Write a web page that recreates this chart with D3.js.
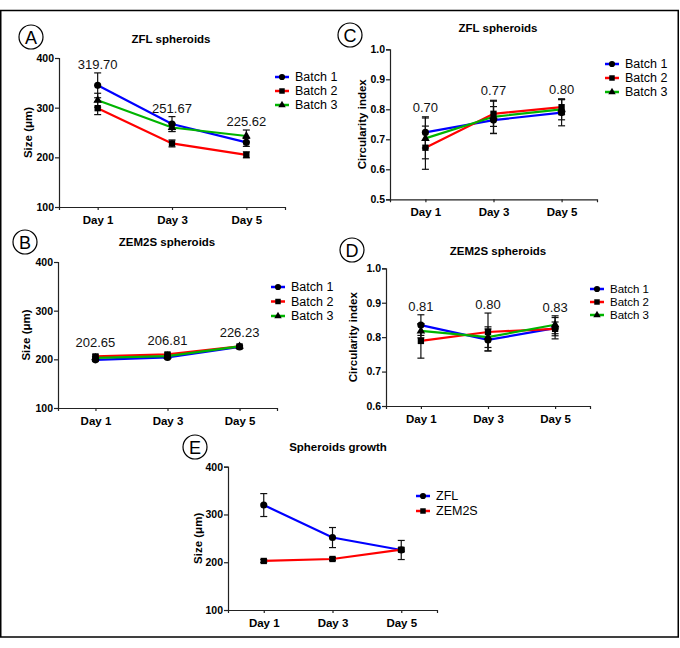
<!DOCTYPE html>
<html><head><meta charset="utf-8">
<script src="https://cdn.jsdelivr.net/npm/d3@7"></script>
<style>body{margin:0;background:#fff}svg{font-family:"Liberation Sans",Arial,sans-serif}</style>
</head><body>
<svg id="c" width="680" height="648"></svg>
<script>
const days = ["Day 1", "Day 3", "Day 5"];
const batchNames = ["Batch 1", "Batch 2", "Batch 3"];
const growthNames = ["ZFL", "ZEM2S"];

// A: ZFL spheroid size
const zflSizeB1 = [345, 267, 230], zflSizeB1Err = [25, 15, 8];
const zflSizeB2 = [299, 228, 205], zflSizeB2Err = [13, 7, 6];
const zflSizeB3 = [315, 260, 243], zflSizeB3Err = [14, 8, 12];
const zflSizeMeans = ["319.70", "251.67", "225.62"];
// B: ZEM2S spheroid size
const zemSizeB1 = [199, 204, 225.5], zemSizeB1Err = [3, 3, 2];
const zemSizeB2 = [206, 210, 226.5], zemSizeB2Err = [3, 3, 2];
const zemSizeB3 = [203, 206.5, 226.7], zemSizeB3Err = [3, 3, 2];
const zemSizeMeans = ["202.65", "206.81", "226.23"];
// C: ZFL circularity
const zflCircB1 = [0.723, 0.764, 0.789], zflCircB1Err = [0.052, 0.045, 0.044];
const zflCircB2 = [0.672, 0.785, 0.807], zflCircB2Err = [0.072, 0.042, 0.025];
const zflCircB3 = [0.703, 0.775, 0.800], zflCircB3Err = [0.068, 0.055, 0.035];
const zflCircMeans = ["0.70", "0.77", "0.80"];
// D: ZEM2S circularity
const zemCircB1 = [0.835, 0.792, 0.826], zemCircB1Err = [0.03, 0.032, 0.031];
const zemCircB2 = [0.789, 0.815, 0.824], zemCircB2Err = [0.05, 0.055, 0.02];
const zemCircB3 = [0.818, 0.800, 0.836], zemCircB3Err = [0.02, 0.03, 0.026];
const zemCircMeans = ["0.81", "0.80", "0.83"];
// E: growth
const growthZFL = [319.70, 251.67, 225.62], growthZFLErr = [24, 21, 20];
const growthZEM = [202.65, 206.81, 226.23], growthZEMErr = [3, 3, 4];

const sizeTicks = [100, 200, 300, 400];
const circTicksC = [0.5, 0.6, 0.7, 0.8, 0.9, 1.0];
const circTicksD = [0.6, 0.7, 0.8, 0.9, 1.0];

const colors = ["#0000ff", "#ff0000", "#00b400"];
const shapes = [d3.symbolCircle, d3.symbolSquare, d3.symbolTriangle];

const svg = d3.select("#c");
svg.append("rect").attr("x", 0.75).attr("y", 10.5).attr("width", 677.5).attr("height", 626.5)
  .attr("fill", "none").attr("stroke", "#000").attr("stroke-width", 1.5);

function panel(o) {
  const g = svg.append("g");
  const x = d3.scalePoint().domain(days).range([o.x0, o.x1]).padding(0.52);
  const y = d3.scaleLinear().domain(o.domain).range([o.yb, o.yt]);
  const ya = g.append("g").attr("transform", `translate(${o.x0},0)`)
    .call(d3.axisLeft(y).tickValues(o.ticks).tickSize(4).tickPadding(1).tickFormat(o.fmt));
  const xa = g.append("g").attr("transform", `translate(0,${o.yb})`)
    .call(d3.axisBottom(x).tickSize(3).tickPadding(6));
  [ya, xa].forEach(a => {
    a.select(".domain").attr("stroke", "#222").attr("stroke-width", 1.2);
    a.selectAll(".tick line").attr("stroke", "#222").attr("stroke-width", 1.2);
    a.selectAll("text").attr("font-family", "Liberation Sans, Arial").attr("font-weight", "bold").attr("fill", "#000");
  });
  ya.selectAll("text").attr("font-size", 10.5);
  xa.selectAll("text").attr("font-size", 11.5);
  g.append("text").attr("x", o.tx).attr("y", o.ty).attr("text-anchor", "middle")
    .attr("dominant-baseline", "central").attr("font-weight", "bold").attr("font-size", 11.5).text(o.title);
  g.append("text").attr("transform", `translate(${o.lx},${(o.yt + o.yb) / 2}) rotate(-90)`)
    .attr("text-anchor", "middle").attr("dominant-baseline", "central")
    .attr("font-weight", "bold").attr("font-size", 11.5).text(o.ylabel);
  g.append("circle").attr("cx", o.cx).attr("cy", o.cy).attr("r", 12)
    .attr("fill", "#fff").attr("stroke", "#000").attr("stroke-width", 1.2);
  g.append("text").attr("x", o.cx).attr("y", o.cy + 1).attr("text-anchor", "middle")
    .attr("dominant-baseline", "central").attr("font-size", 18).text(o.letter);
  const line = d3.line().x((d, i) => x(days[i])).y(d => y(d));
  o.series.forEach((s, k) => {
    g.append("path").datum(s.v).attr("d", line).attr("fill", "none")
      .attr("stroke", colors[k]).attr("stroke-width", 2.2);
  });
  o.series.forEach((s, k) => {
    s.v.forEach((v, i) => {
      const cxp = x(days[i]);
      const eg = g.append("g").attr("stroke", "#111").attr("stroke-width", 1.2);
      eg.append("line").attr("x1", cxp).attr("x2", cxp).attr("y1", y(v - s.e[i])).attr("y2", y(v + s.e[i]));
      [v - s.e[i], v + s.e[i]].forEach(w => eg.append("line")
        .attr("x1", cxp - 3.5).attr("x2", cxp + 3.5).attr("y1", y(w)).attr("y2", y(w)));
    });
  });
  o.series.forEach((s, k) => {
    const sym = d3.symbol().type(shapes[k]).size(k === 2 ? 32 : 40);
    s.v.forEach((v, i) => {
      g.append("path").attr("d", sym).attr("transform", `translate(${x(days[i])},${y(v)})`).attr("fill", "#000");
    });
  });
  if (o.means) {
    o.means.forEach((m, i) => {
      const top = d3.max(o.series, s => s.v[i] + s.e[i]);
      g.append("text").attr("x", x(days[i])).attr("y", y(top) - o.moff).attr("text-anchor", "middle")
        .attr("font-size", 13).attr("fill", "#111").text(m);
    });
  }
  o.series.forEach((s, k) => {
    const ly = o.legY + k * o.legDy;
    g.append("line").attr("x1", o.legX - 7).attr("x2", o.legX + 7).attr("y1", ly).attr("y2", ly)
      .attr("stroke", colors[k]).attr("stroke-width", 2.5);
    g.append("path").attr("d", d3.symbol().type(shapes[k]).size(k === 2 ? 24 : 30))
      .attr("transform", `translate(${o.legX},${ly})`).attr("fill", "#000");
    g.append("text").attr("x", o.legX + 13).attr("y", ly).attr("dominant-baseline", "central")
      .attr("font-size", o.legFs).text(s.name);
  });
}

const sizeLabel = "Size (\u03bcm)";
panel({letter: "A", cx: 31, cy: 37, title: "ZFL spheroids", tx: 171, ty: 39, x0: 59, x1: 285, yt: 58, yb: 207,
  domain: [100, 400], ticks: sizeTicks, fmt: d3.format("d"), lx: 28, ylabel: sizeLabel, moff: 4,
  series: [{name: batchNames[0], v: zflSizeB1, e: zflSizeB1Err}, {name: batchNames[1], v: zflSizeB2, e: zflSizeB2Err},
           {name: batchNames[2], v: zflSizeB3, e: zflSizeB3Err}],
  means: zflSizeMeans, legX: 282, legY: 77, legDy: 14, legFs: 12.5});
panel({letter: "B", cx: 25, cy: 242, title: "ZEM2S spheroids", tx: 167, ty: 242, x0: 58, x1: 277, yt: 262, yb: 408,
  domain: [100, 400], ticks: sizeTicks, fmt: d3.format("d"), lx: 26, ylabel: sizeLabel, moff: 8,
  series: [{name: batchNames[0], v: zemSizeB1, e: zemSizeB1Err}, {name: batchNames[1], v: zemSizeB2, e: zemSizeB2Err},
           {name: batchNames[2], v: zemSizeB3, e: zemSizeB3Err}],
  means: zemSizeMeans, legX: 278, legY: 287, legDy: 14.5, legFs: 12.5});
panel({letter: "C", cx: 350, cy: 35, title: "ZFL spheroids", tx: 498, ty: 28, x0: 390, x1: 597, yt: 49.3, yb: 199.3,
  domain: [0.5, 1.0], ticks: circTicksC, fmt: d3.format(".1f"), lx: 362, ylabel: "Circularity index", moff: 5,
  series: [{name: batchNames[0], v: zflCircB1, e: zflCircB1Err}, {name: batchNames[1], v: zflCircB2, e: zflCircB2Err},
           {name: batchNames[2], v: zflCircB3, e: zflCircB3Err}],
  means: zflCircMeans, legX: 612, legY: 64, legDy: 14, legFs: 12.5});
panel({letter: "D", cx: 352, cy: 250, title: "ZEM2S spheroids", tx: 498, ty: 251, x0: 386, x1: 590, yt: 268.3, yb: 406,
  domain: [0.6, 1.0], ticks: circTicksD, fmt: d3.format(".1f"), lx: 353, ylabel: "Circularity index", moff: 4,
  series: [{name: batchNames[0], v: zemCircB1, e: zemCircB1Err}, {name: batchNames[1], v: zemCircB2, e: zemCircB2Err},
           {name: batchNames[2], v: zemCircB3, e: zemCircB3Err}],
  means: zemCircMeans, legX: 597, legY: 289, legDy: 13, legFs: 11.5});
panel({letter: "E", cx: 195, cy: 447, title: "Spheroids growth", tx: 338, ty: 447, x0: 228, x1: 437, yt: 466.7, yb: 610,
  domain: [100, 400], ticks: sizeTicks, fmt: d3.format("d"), lx: 198, ylabel: sizeLabel,
  series: [{name: growthNames[0], v: growthZFL, e: growthZFLErr}, {name: growthNames[1], v: growthZEM, e: growthZEMErr}],
  legX: 423, legY: 496, legDy: 15, legFs: 12.5});
</script>
</body></html>
